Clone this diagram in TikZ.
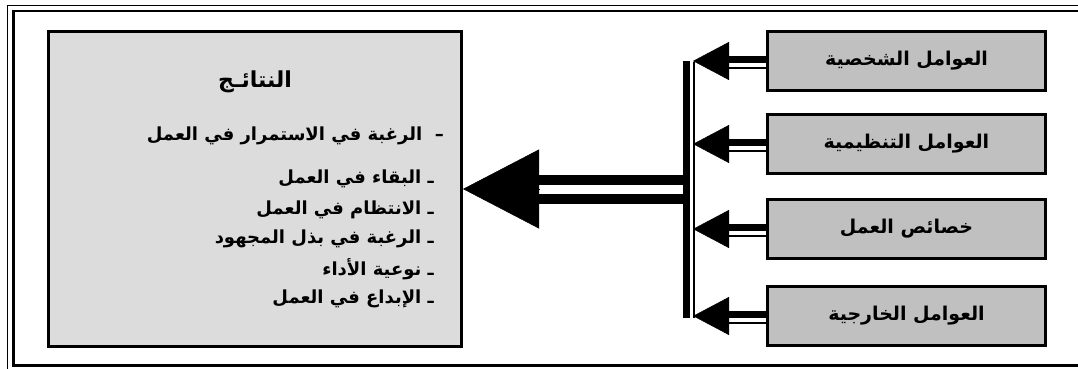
\documentclass[tikz,border=0pt]{standalone}
\usepackage{fontspec}
\newfontfamily\arabicfont[Script=Arabic]{DejaVu Sans}
\TeXXeTstate=1
\usetikzlibrary{arrows.meta}
\definecolor{resultgray}{HTML}{DCDCDC}
\definecolor{factorgray}{HTML}{C0C0C0}
\begin{document}
\begin{tikzpicture}[x=1pt,y=-1pt,line cap=butt,
    factor node/.style={draw,line width=3pt,fill=factorgray,minimum width=278pt,minimum height=59pt,inner sep=0pt,font=\arabicfont\bfseries\fontsize{19}{22}\selectfont},
    result node/.style={draw,line width=3pt,fill=resultgray,minimum width=413pt,minimum height=315pt,inner sep=0pt},
    item node/.style={anchor=east,inner sep=0pt,font=\arabicfont\bfseries\fontsize{18}{20}\selectfont},
    small head/.style={-{Triangle[length=36pt,width=38pt]},line width=0.5pt},
    big head/.style={-{Triangle[length=76pt,width=79pt]},line width=0.5pt},
    big shaft/.style={double,double distance=9pt,line width=10pt}]
    \clip (0,0) rectangle (1078,369);

    % frame
    \draw[line width=1.5pt] (7.5,5.5) rectangle (1090,371);
    \draw[line width=2.5pt] (13.5,11) rectangle (1084,365.5);

    % boxes
    \node[result node] at (255,189) (res) {};
    \node[factor node] at (906.5,61) (f1) {\beginR العوامل الشخصية\endR};
    \node[factor node] at (906.5,144) (f2) {\beginR العوامل التنظيمية\endR};
    \node[factor node] at (906.5,229) (f3) {\beginR خصائص العمل\endR};
    \node[factor node] at (906.5,316) (f4) {\beginR العوامل الخارجية\endR};

    % text of the result box
    \node[font=\arabicfont\bfseries\fontsize{22}{24}\selectfont] at (255,82) (title) {\beginR النتائـج\endR};
    \node[item node] at (444,136) (i1) {\beginR –\ \ الرغبة في الاستمرار في العمل\endR};
    \node[item node] at (434,179) (i2) {\beginR ـ البقاء في العمل\endR};
    \node[item node] at (434,210) (i3) {\beginR ـ الانتظام في العمل\endR};
    \node[item node] at (434,239) (i4) {\beginR ـ الرغبة في بذل المجهود\endR};
    \node[item node] at (434,269) (i5) {\beginR ـ نوعية الأداء\endR};
    \node[item node] at (434,299) (i6) {\beginR ـ الإبداع في العمل\endR};

    % joining bar
    \coordinate (hub) at (686,189);
    \coordinate (bt) at (686.5,61);
    \coordinate (bb) at (686.5,318);
    \coordinate (lt) at (694,62);
    \coordinate (lb) at (694,318);
    \coordinate (h1) at (693,61);
    \coordinate (h2) at (693,144);
    \coordinate (h3) at (693,229);
    \coordinate (h4) at (693,316);

    \draw[big shaft] (hub) -- ([shift={(70,0)}]res.east);
    \draw[big head] ([shift={(76,0)}]res.east) -- (res.east);
    \draw[line width=7pt] (bt) -- (bb);
    \draw[line width=1.5pt] (lt) -- (lb);

    % arrows from the factors
    \draw[line width=7pt] ([shift={(0,-1.5)}]f1.west) -- ([shift={(36,-1.5)}]h1);
    \draw[line width=2pt] ([shift={(0,6.5)}]f1.west) -- ([shift={(36,6.5)}]h1);
    \draw[small head] ([shift={(36,0)}]h1) -- (h1);
    \draw[line width=7pt] ([shift={(0,-1.5)}]f2.west) -- ([shift={(36,-1.5)}]h2);
    \draw[line width=2pt] ([shift={(0,6.5)}]f2.west) -- ([shift={(36,6.5)}]h2);
    \draw[small head] ([shift={(36,0)}]h2) -- (h2);
    \draw[line width=7pt] ([shift={(0,-1.5)}]f3.west) -- ([shift={(36,-1.5)}]h3);
    \draw[line width=2pt] ([shift={(0,6.5)}]f3.west) -- ([shift={(36,6.5)}]h3);
    \draw[small head] ([shift={(36,0)}]h3) -- (h3);
    \draw[line width=7pt] ([shift={(0,-1.5)}]f4.west) -- ([shift={(36,-1.5)}]h4);
    \draw[line width=2pt] ([shift={(0,6.5)}]f4.west) -- ([shift={(36,6.5)}]h4);
    \draw[small head] ([shift={(36,0)}]h4) -- (h4);
\end{tikzpicture}
\end{document}
